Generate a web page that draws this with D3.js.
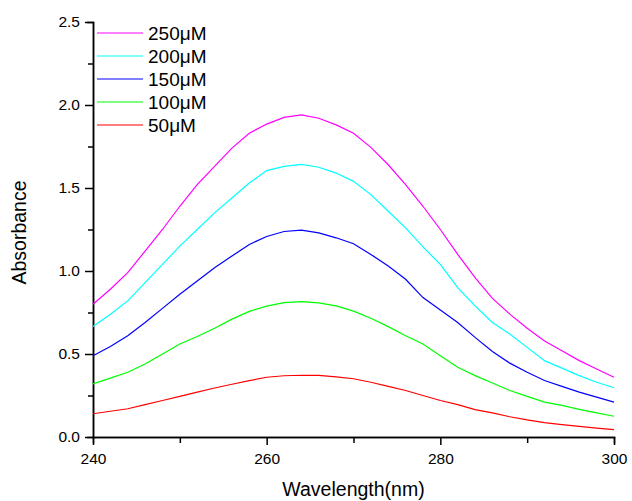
<!DOCTYPE html>
<html>
<head>
<meta charset="utf-8">
<script src="https://d3js.org/d3.v7.min.js"></script>
<style>
body { margin: 0; background: #fff; font-family: Arial, "Liberation Sans", sans-serif; }
.axis path, .axis line { stroke: #000; stroke-width: 1.5; }
.axis text { font-size: 15.5px; fill: #000; font-family: Arial, "Liberation Sans", sans-serif; }
</style>
</head>
<body>
<div id="plot"></div>
<script>

// Wavelengths (nm) and absorbance
var wavelengths = [240, 242, 244, 246, 248, 250, 252, 254, 256, 258, 260, 262, 264, 266, 268, 270,
  272, 274, 276, 278, 280, 282, 284, 286, 288, 290, 292, 294, 296, 298, 300];

var abs250 = [0.80, 0.89, 0.99, 1.12, 1.25, 1.39, 1.52, 1.63, 1.74, 1.83, 1.885, 1.925, 1.94, 1.92, 1.88, 1.83,
  1.745, 1.64, 1.52, 1.39, 1.25, 1.10, 0.96, 0.835, 0.74, 0.655, 0.578, 0.52, 0.46, 0.41, 0.36];
var abs200 = [0.665, 0.74, 0.82, 0.93, 1.04, 1.15, 1.25, 1.35, 1.44, 1.53, 1.605, 1.63, 1.642, 1.625, 1.59, 1.54,
  1.46, 1.36, 1.26, 1.145, 1.04, 0.90, 0.79, 0.69, 0.62, 0.54, 0.46, 0.415, 0.37, 0.33, 0.297];
var abs150 = [0.49, 0.545, 0.61, 0.69, 0.775, 0.86, 0.94, 1.02, 1.09, 1.16, 1.208, 1.238, 1.246, 1.23, 1.20, 1.164,
  1.10, 1.03, 0.95, 0.84, 0.765, 0.69, 0.60, 0.515, 0.445, 0.39, 0.34, 0.305, 0.27, 0.24, 0.21];
var abs100 = [0.32, 0.355, 0.39, 0.44, 0.50, 0.56, 0.605, 0.655, 0.71, 0.757, 0.788, 0.809, 0.815, 0.808, 0.79, 0.758,
  0.715, 0.665, 0.61, 0.56, 0.49, 0.42, 0.37, 0.325, 0.28, 0.245, 0.21, 0.19, 0.166, 0.145, 0.125];
var abs50 = [0.14, 0.155, 0.17, 0.195, 0.22, 0.245, 0.27, 0.295, 0.318, 0.34, 0.36, 0.369, 0.372, 0.371, 0.362, 0.351,
  0.33, 0.305, 0.28, 0.25, 0.22, 0.195, 0.165, 0.145, 0.122, 0.103, 0.087, 0.075, 0.064, 0.054, 0.045];

var seriesNames = ["250\u03bcM", "200\u03bcM", "150\u03bcM", "100\u03bcM", "50\u03bcM"];
var seriesValues = [abs250, abs200, abs150, abs100, abs50];
var seriesColors = ["#ff00ff", "#00ffff", "#0000ff", "#00ff00", "#ff0000"];

var xMajor = [240, 260, 280, 300];
var xMinor = [250, 270, 290];
var yMajor = [0, 0.5, 1.0, 1.5, 2.0, 2.5];
var yMinor = [0.25, 0.75, 1.25, 1.75, 2.25];

var W = 632, H = 501;
var margin = { left: 93, top: 22, right: 18, bottom: 64 };
var width = W - margin.left - margin.right;
var height = H - margin.top - margin.bottom;

var svg = d3.select("#plot").append("svg")
  .attr("width", W).attr("height", H)
  .append("g").attr("transform", "translate(" + margin.left + "," + margin.top + ")");

var xScale = d3.scaleLinear().domain([240, 300]).range([0, width]);
var yScale = d3.scaleLinear().domain([0, 2.5]).range([height, 0]);

// minor ticks first, then the labelled ones
svg.append("g").attr("class", "axis")
  .attr("transform", "translate(0," + height + ")")
  .call(d3.axisBottom(xScale).tickValues(xMinor).tickSize(6).tickFormat(""));
svg.append("g").attr("class", "axis")
  .attr("transform", "translate(0," + height + ")")
  .call(d3.axisBottom(xScale).tickValues(xMajor).tickSizeInner(8).tickSizeOuter(0).tickPadding(8).tickFormat(d3.format("d")));

svg.append("g").attr("class", "axis")
  .call(d3.axisLeft(yScale).tickValues(yMinor).tickSize(5).tickFormat(""));
svg.append("g").attr("class", "axis")
  .call(d3.axisLeft(yScale).tickValues(yMajor).tickSizeInner(8).tickSizeOuter(0).tickPadding(5).tickFormat(d3.format(".1f")));

svg.selectAll(".axis .domain").attr("stroke-linecap", "square");

// axis titles
svg.append("text")
  .attr("x", width / 2).attr("y", height + 59)
  .attr("text-anchor", "middle")
  .style("font-size", "19.5px")
  .text("Wavelength(nm)");

svg.append("text")
  .attr("transform", "translate(" + (-67) + "," + (height / 2 + 3) + ") rotate(-90)")
  .attr("text-anchor", "middle")
  .style("font-size", "19.5px")
  .text("Absorbance");

// spectra
var line = d3.line()
  .x(function (d, i) { return xScale(wavelengths[i]); })
  .y(function (d) { return yScale(d); });

svg.selectAll("path.spectrum")
  .data(seriesValues).enter().append("path")
  .attr("class", "spectrum")
  .attr("d", line)
  .attr("fill", "none")
  .attr("stroke", function (d, i) { return seriesColors[i]; })
  .attr("stroke-width", 1.2);

// legend
var legend = svg.selectAll("g.legend")
  .data(seriesNames).enter().append("g")
  .attr("class", "legend")
  .attr("transform", function (d, i) { return "translate(4," + (11 + i * 23) + ")"; });

legend.append("line")
  .attr("x1", 0).attr("x2", 46)
  .attr("stroke", function (d, i) { return seriesColors[i]; })
  .attr("stroke-width", 1.2);

legend.append("text")
  .attr("x", 51).attr("y", 7)
  .style("font-size", "19px")
  .text(function (d) { return d; });

</script>
</body>
</html>
